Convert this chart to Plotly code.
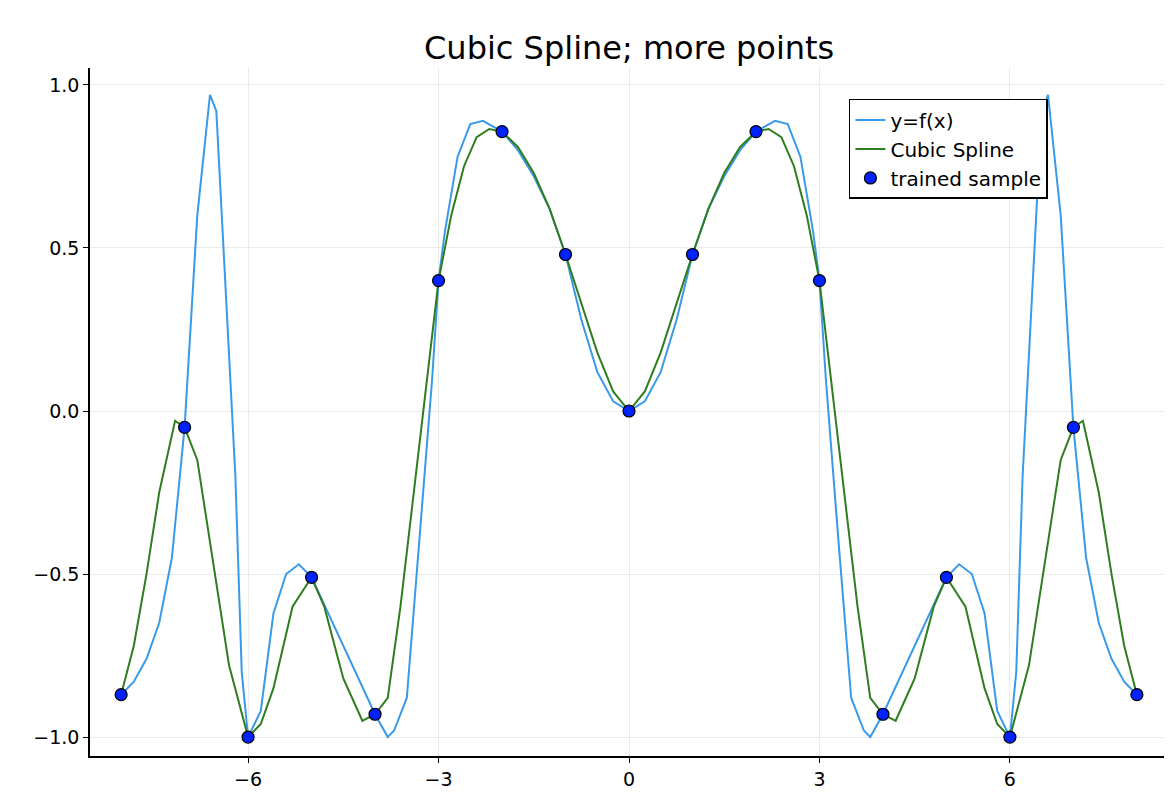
import plotly.graph_objects as go

# values (right half; the curve is symmetric about x=0)
fx_half = [0, 0.25, 0.5, 0.75, 1, 1.25, 1.5, 1.75, 2, 2.3, 2.5, 2.7, 2.9, 3, 3.1, 3.3, 3.5, 3.7, 3.8,
           4, 4.5, 5, 5.2, 5.4, 5.6, 5.8, 6, 6.1, 6.2, 6.4, 6.5, 6.6, 6.8, 7, 7.2, 7.4, 7.6, 7.8, 8]
fy_half = [0, 0.03, 0.12, 0.28, 0.48, 0.62, 0.72, 0.80, 0.857, 0.89, 0.88, 0.78, 0.55, 0.40, 0.10,
           -0.40, -0.88, -0.98, -1.0, -0.93, -0.72, -0.51, -0.47, -0.50, -0.62, -0.92, -1.0, -0.80,
           -0.20, 0.55, 0.92, 0.97, 0.60, -0.05, -0.45, -0.65, -0.76, -0.83, -0.87]
sx_half = [0, 0.25, 0.5, 0.75, 1, 1.25, 1.5, 1.75, 2, 2.2, 2.4, 2.6, 2.8, 3, 3.3, 3.6, 3.8, 4, 4.2,
           4.5, 4.8, 5, 5.3, 5.6, 5.8, 6, 6.3, 6.6, 6.8, 7, 7.15, 7.4, 7.6, 7.8, 8]
sy_half = [0, 0.06, 0.18, 0.33, 0.48, 0.62, 0.73, 0.81, 0.857, 0.865, 0.84, 0.75, 0.60, 0.40, -0.10,
           -0.60, -0.88, -0.93, -0.95, -0.82, -0.60, -0.51, -0.60, -0.85, -0.96, -1.0, -0.78, -0.40,
           -0.15, -0.05, -0.03, -0.25, -0.50, -0.72, -0.87]
px = list(range(-8, 9))
py = [-0.87, -0.05, -1.0, -0.51, -0.93, 0.40, 0.857, 0.48, 0, 0.48, 0.857, 0.40, -0.93, -0.51, -1.0, -0.05, -0.87]


def mirror(xs, ys):
    return [-x for x in xs[:0:-1]] + xs, ys[:0:-1] + ys


fx, fy = mirror(fx_half, fy_half)
sx, sy = mirror(sx_half, sy_half)

fig = go.Figure()
fig.add_scatter(x=fx, y=fy, mode='lines', name='y=f(x)', line=dict(color='#3a9ae8', width=2))
fig.add_scatter(x=sx, y=sy, mode='lines', name='Cubic Spline', line=dict(color='#2e7d1e', width=2))
fig.add_scatter(x=px, y=py, mode='markers', name='trained sample',
                marker=dict(color='#0022ff', size=12, line=dict(color='black', width=1.2)))

axis = dict(showgrid=True, gridcolor='#ebebeb', zeroline=False, showline=True, linecolor='black',
            linewidth=1.5, ticks='outside', ticklen=5, tickcolor='black', mirror=False,
            tickfont=dict(size=19, color='black'), automargin=False)
fig.update_xaxes(axis, range=[-8.49, 8.49], tickvals=[-6, -3, 0, 3, 6],
                 ticktext=['−6', '−3', '0', '3', '6'])
fig.update_yaxes(axis, range=[-1.058, 1.052], tickvals=[-1, -0.5, 0, 0.5, 1],
                 ticktext=['−1.0', '−0.5', '0.0', '0.5', '1.0'])
fig.update_layout(
    width=1172, height=808, plot_bgcolor='white', paper_bgcolor='white',
    font=dict(family='DejaVu Sans', color='black'),
    title=dict(text='Cubic Spline; more points', x=0.53, y=0.965, font=dict(size=32)),
    margin=dict(l=82, r=12, t=60, b=60),
    legend=dict(x=0.704, y=0.955, xanchor='left', yanchor='top', bgcolor='white',
                bordercolor='black', borderwidth=1.5, font=dict(size=20), tracegroupgap=0),
)
fig.write_html("out.html")
